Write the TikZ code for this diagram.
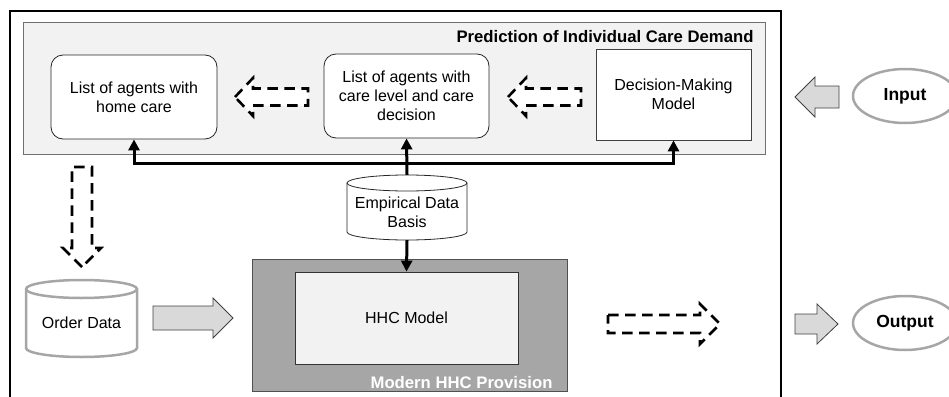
\documentclass[tikz,border=0pt]{standalone}
\usepackage{fontspec}
\setmainfont{Liberation Sans}
\usetikzlibrary{arrows.meta,shapes.geometric}
\definecolor{panelfill}{HTML}{F2F2F2}
\definecolor{paneldraw}{HTML}{707070}
\definecolor{darkfill}{HTML}{A6A6A6}
\definecolor{darkdraw}{HTML}{505050}
\definecolor{softgray}{HTML}{A6A6A6}
\definecolor{arrowfill}{HTML}{D9D9D9}
\definecolor{arrowdraw}{HTML}{404040}
\tikzset{
  txt/.style={font=\fontsize{16}{19}\selectfont, align=center},
  boldtxt/.style={font=\fontsize{16.7}{19}\selectfont\bfseries},
  rbox/.style={txt, draw=black!85, line width=0.8pt, fill=white, rounded corners=12pt, inner sep=0pt},
  sbox/.style={txt, draw=black!75, line width=0.8pt, fill=white, inner sep=0pt},
  bus/.style={line width=3pt, -{Triangle[length=11pt,width=11pt]}},
  dasharrow/.style={draw=black, fill=white, line width=2.6pt, dash pattern=on 10.5pt off 6.5pt, line join=miter},
  blockarrow/.style={draw=arrowdraw, fill=arrowfill, line width=0.8pt},
  io/.style={ellipse, draw=softgray, line width=2.5pt, fill=white, font=\fontsize{17.5}{20}\selectfont\bfseries, minimum width=104pt, minimum height=54pt, inner sep=0pt},
}
\begin{document}
\begin{tikzpicture}[x=1pt,y=-1pt]
\useasboundingbox (0,0) rectangle (949,396);
% outer frame
\draw[line width=2.5pt] (10,410) -- (10,11) -- (781,11) -- (781,410);
% prediction panel
\node[draw=paneldraw, fill=panelfill, line width=0.8pt, minimum width=742pt, minimum height=132pt, inner sep=0pt] (panel) at (394,88) {};
\node[boldtxt, anchor=base east] (title) at (757,42) {Prediction of Individual Care Demand};
% boxes in panel
\node[rbox, minimum width=166pt, minimum height=84pt] (b1) at (134,97) {List of agents with\\home care};
\node[rbox, minimum width=165pt, minimum height=84pt] (b2) at (406.5,96) {List of agents with\\care level and care\\decision};
\node[sbox, minimum width=155pt, minimum height=91pt] (b3) at (673.5,94.5) {Decision-Making\\Model};
% dashed arrows in panel
\draw[dasharrow] (235,97) -- (253,78) -- (253,88.5) -- (308,88.5) -- (308,105.5) -- (253,105.5) -- (253,116) -- cycle;
\draw[dasharrow] (508,97) -- (526,78) -- (526,88.5) -- (581,88.5) -- (581,105.5) -- (526,105.5) -- (526,116) -- cycle;
% empirical data cylinder
\draw[draw=black!85, fill=white, line width=0.8pt]
  (347,183) -- (347,232) arc[start angle=180, end angle=360, x radius=60pt, y radius=8pt]
  -- (467,183) arc[start angle=0, end angle=180, x radius=60pt, y radius=8pt] -- cycle;
\draw[draw=black!85, line width=0.8pt] (347,183) arc[start angle=180, end angle=360, x radius=60pt, y radius=8pt];
\node[txt, minimum width=120pt, minimum height=65pt, inner sep=0pt] (emp) at (407,207.5) {};
\node[txt] (emptxt) at (407,212) {Empirical Data\\Basis};
% bus
\coordinate (j) at (406.5,163);
\draw[bus] (emp.north) -- (b2.south);
\draw[bus] (j) -| (b1.south);
\draw[bus] (j) -| (b3.south);
% modern HHC provision
\node[draw=darkdraw, fill=darkfill, line width=0.8pt, minimum width=315pt, minimum height=132pt, inner sep=0pt] (prov) at (409.5,325) {};
\node[boldtxt, text=white, anchor=base east] (provlbl) at (556,388) {Modern HHC Provision};
\node[txt, draw=black!80, fill=panelfill, line width=0.8pt, minimum width=223pt, minimum height=92pt, inner sep=0pt] (hhc) at (406.5,318) {HHC Model};
\draw[bus] (emp.south) -- (hhc.north);
% order data cylinder
\draw[draw=softgray, fill=white, line width=2.5pt]
  (26,289) -- (26,348) arc[start angle=180, end angle=360, x radius=55.5pt, y radius=9pt]
  -- (137,289) arc[start angle=0, end angle=180, x radius=55.5pt, y radius=9pt] -- cycle;
\draw[draw=softgray, line width=2.5pt] (26,289) arc[start angle=180, end angle=360, x radius=55.5pt, y radius=9pt];
\node[txt] (order) at (81.5,323) {Order Data};
% down dashed arrow
\draw[dasharrow] (82,267) -- (63,248) -- (72,248) -- (72,167) -- (92,167) -- (92,248) -- (101,248) -- cycle;
% order -> HHC block arrow
\draw[blockarrow] (153,306) -- (213,306) -- (213,298) -- (233,318) -- (213,338) -- (213,330) -- (153,330) -- cycle;
% right dashed arrow
\draw[dasharrow] (608,315) -- (700,315) -- (700,304) -- (720,324) -- (700,344) -- (700,333) -- (608,333) -- cycle;
% input / output
\node[io] (in) at (905,96) {Input};
\node[io] (out) at (905,323) {Output};
\draw[blockarrow] (795,97) -- (815,77) -- (815,86) -- (839,86) -- (839,108) -- (815,108) -- (815,117) -- cycle;
\draw[blockarrow] (795,314) -- (817,314) -- (817,304) -- (838,324) -- (817,344) -- (817,334) -- (795,334) -- cycle;
\end{tikzpicture}
\end{document}
